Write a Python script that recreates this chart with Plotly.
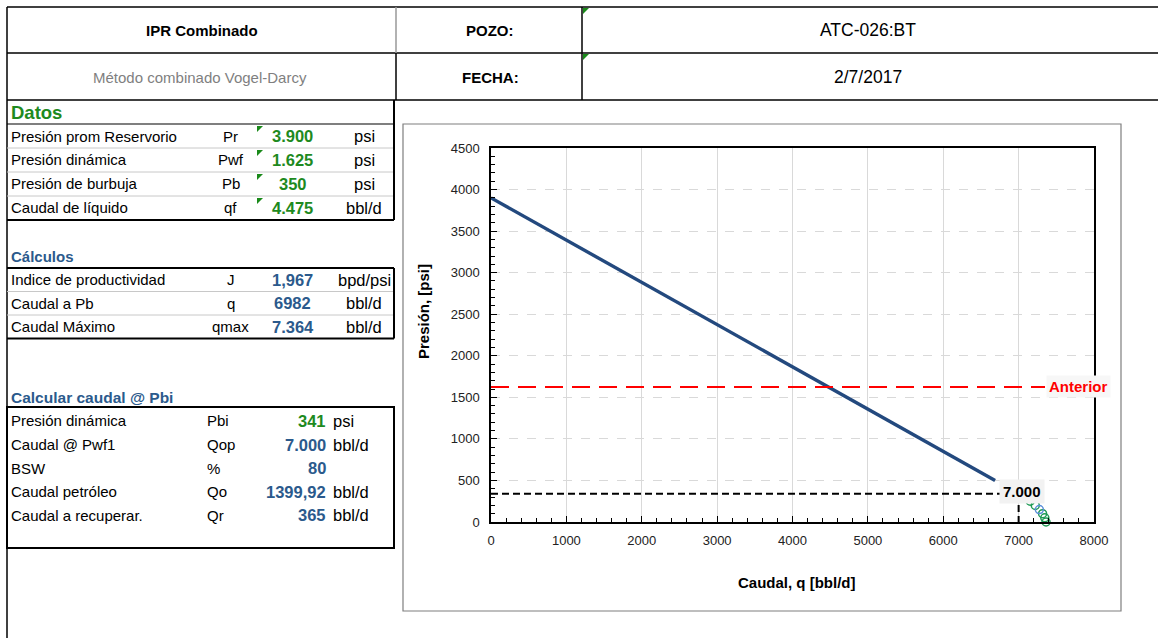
import plotly.graph_objects as go

W, H = 1158, 638
FONT = "Liberation Sans, Arial, sans-serif"
GREEN = "#1e8a1e"
BLUE = "#2b5a8c"
LINE_BLUE = "#23497e"

# ---- chart data ----
darcy_q = [0, 787, 1770, 2754, 3737, 4721, 5704, 6688]
darcy_p = [3900, 3500, 3000, 2500, 2000, 1500, 1000, 500]
vogel_q = [6982, 7074, 7154, 7221, 7318, 7347, 7364]
vogel_p = [350, 300, 250, 200, 100, 50, 0]
op_q = [7275]
op_p = [150]
pwf_anterior = 1625
anterior_q_end = 7350
pbi = 341
qop = 7000

# ---- sheet data ----
datos_labels = ["Presión prom Reservorio", "Presión dinámica", "Presión de burbuja", "Caudal de líquido"]
datos_symbols = ["Pr", "Pwf", "Pb", "qf"]
datos_values = ["3.900", "1.625", "350", "4.475"]
datos_units = ["psi", "psi", "psi", "bbl/d"]

calc_labels = ["Indice de productividad", "Caudal a Pb", "Caudal Máximo"]
calc_symbols = ["J", "q", "qmax"]
calc_values = ["1,967", "6982", "7.364"]
calc_units = ["bpd/psi", "bbl/d", "bbl/d"]

pbi_labels = ["Presión dinámica", "Caudal @ Pwf1", "BSW", "Caudal petróleo", "Caudal a recuperar."]
pbi_symbols = ["Pbi", "Qop", "%", "Qo", "Qr"]
pbi_values = ["341", "7.000", "80", "1399,92", "365"]
pbi_units = ["psi", "bbl/d", "", "bbl/d", "bbl/d"]
pbi_colors = [GREEN, BLUE, BLUE, BLUE, BLUE]


def fx(x):
    return x / W


def fy(y):
    return 1 - y / H


shapes = []
annotations = []


def hline(x0, x1, y, color="black", width=1):
    shapes.append(dict(type="line", xref="paper", yref="paper", x0=fx(x0), x1=fx(x1),
                       y0=fy(y), y1=fy(y), line=dict(color=color, width=width)))


def vline(x, y0, y1, color="black", width=1):
    shapes.append(dict(type="line", xref="paper", yref="paper", x0=fx(x), x1=fx(x),
                       y0=fy(y0), y1=fy(y1), line=dict(color=color, width=width)))


def text(x, y, s, size=15, color="black", bold=False, anchor="left"):
    if bold:
        s = "<b>" + s + "</b>"
    annotations.append(dict(xref="paper", yref="paper", x=fx(x), y=fy(y), text=s,
                            showarrow=False, xanchor=anchor, yanchor="middle",
                            font=dict(family=FONT, size=size, color=color)))


def tri(x, y):
    shapes.append(dict(type="path", xref="paper", yref="paper",
                       path=f"M {fx(x)},{fy(y)} L {fx(x + 6)},{fy(y)} L {fx(x)},{fy(y + 6)} Z",
                       fillcolor="#1a8a1a", line=dict(width=0)))


# ---- header ----
hline(7, W, 7, width=1.5)
hline(7, W, 53, width=1.5)
hline(7, W, 100, width=1.5)
vline(7, 7, H, width=1.5)
vline(396, 7, 53, color="#999999", width=1.5)
vline(396, 53, 100, width=1.5)
vline(582, 7, 100, width=1.5)
tri(583, 8)
tri(583, 54)
text(202, 30, "IPR Combinado", size=15, bold=True, anchor="center")
text(200, 77, "Método combinado Vogel-Darcy", size=15, color="#7f7f7f", anchor="center")
text(490, 30, "POZO:", size=15, bold=True, anchor="center")
text(490, 77, "FECHA:", size=15, bold=True, anchor="center")
text(868, 30, "ATC-026:BT", size=17.5, anchor="center")
text(868, 77, "2/7/2017", size=17.5, anchor="center")

# ---- Datos ----
text(9, 113, "Datos", size=18.5, color=GREEN, bold=True)
row_top = 124
row_h = 24
for i, lab in enumerate(datos_labels):
    yc = row_top + row_h * i + row_h / 2
    text(9, yc, lab, size=15)
    text(231, yc, datos_symbols[i], size=15, anchor="center")
    text(293, yc, datos_values[i], size=16.5, color=GREEN, bold=True, anchor="center")
    text(364, yc, datos_units[i], size=16.5, anchor="center")
    tri(257, row_top + row_h * i + 2)
    if 0 < i:
        hline(7, 394, row_top + row_h * i, color="#c8c8c8")
hline(7, 394, row_top, width=1.2)
hline(7, 394, row_top + row_h * 4, width=2)
vline(394, 100, row_top + row_h * 4, width=2)

# ---- Cálculos ----
text(9, 256, "Cálculos", size=15, color=BLUE, bold=True)
c_top = 268
c_h = 23.5
for i, lab in enumerate(calc_labels):
    yc = c_top + c_h * i + c_h / 2
    text(9, yc, lab, size=15)
    text(231, yc, calc_symbols[i], size=15, anchor="center")
    text(293, yc, calc_values[i], size=16.5, color=BLUE, bold=True, anchor="center")
    text(364, yc, calc_units[i], size=16.5, anchor="center")
    if 0 < i:
        hline(7, 394, c_top + c_h * i, color="#c8c8c8")
hline(7, 394, c_top, width=2)
hline(7, 394, c_top + c_h * 3, width=2)
vline(394, c_top, c_top + c_h * 3, width=2)

# ---- Calcular caudal @ Pbi ----
text(9, 397, "Calcular caudal @ Pbi", size=15.5, color=BLUE, bold=True)
shapes.append(dict(type="rect", xref="paper", yref="paper", x0=fx(7), x1=fx(394),
                   y0=fy(548), y1=fy(407), line=dict(color="black", width=2)))
for i, lab in enumerate(pbi_labels):
    yc = 421 + 23.5 * i
    text(9, yc, lab, size=15)
    text(205, yc, pbi_symbols[i], size=15)
    text(328, yc, pbi_values[i], size=16.5, color=pbi_colors[i], bold=True, anchor="right")
    text(331, yc, pbi_units[i], size=16.5)

# ---- chart frame ----
shapes.append(dict(type="rect", xref="paper", yref="paper", x0=fx(403), x1=fx(1121),
                   y0=fy(611), y1=fy(124), line=dict(color="#7f7f7f", width=1.2)))

fig = go.Figure()
fig.add_trace(go.Scatter(x=darcy_q, y=darcy_p, mode="lines",
                         line=dict(color=LINE_BLUE, width=3.4), showlegend=False))
fig.add_trace(go.Scatter(x=vogel_q, y=vogel_p, mode="markers", cliponaxis=False,
                         marker=dict(symbol="circle-open", size=8, color="#1f9a55",
                                     line=dict(width=1.5)), showlegend=False))
fig.add_trace(go.Scatter(x=op_q, y=op_p, mode="markers", cliponaxis=False,
                         marker=dict(symbol="circle-open", size=8, color="#5b8fd8",
                                     line=dict(width=1.5)), showlegend=False))
fig.add_trace(go.Scatter(x=[0, anterior_q_end], y=[pwf_anterior, pwf_anterior], mode="lines",
                         line=dict(color="#ff0000", width=2, dash="18px,9px"), showlegend=False))
fig.add_trace(go.Scatter(x=[0, qop, qop], y=[pbi, pbi, 0], mode="lines",
                         line=dict(color="black", width=2, dash="7px,4px"), showlegend=False))

annotations.append(dict(xref="x", yref="y", x=qop, y=pbi, text="<b>7.000</b>", showarrow=False,
                        xanchor="center", yanchor="middle", xshift=3, yshift=2,
                        bgcolor="#f2f2f2", borderpad=3,
                        font=dict(family=FONT, size=15, color="black")))
annotations.append(dict(xref="x", yref="y", x=anterior_q_end, y=pwf_anterior,
                        text="<b>Anterior</b>", showarrow=False, xanchor="left", yanchor="middle",
                        bgcolor="#f7f7f7", borderpad=2, xshift=1,
                        font=dict(family=FONT, size=15, color="#ff0000")))

# axis titles
text(423, 312, "Presión, [psi]", size=15, bold=True, anchor="center")
annotations[-1]["textangle"] = -90
text(797, 582, "Caudal, q [bbl/d]", size=15, bold=True, anchor="center")

fig.update_layout(
    width=W, height=H,
    margin=dict(l=0, r=0, t=0, b=0, autoexpand=False),
    paper_bgcolor="white", plot_bgcolor="white",
    showlegend=False,
    shapes=shapes,
    annotations=annotations,
    font=dict(family=FONT, size=13, color="#222222"),
    xaxis=dict(domain=[fx(491), fx(1094)], range=[0, 8000], dtick=1000, automargin=False,
               ticks="inside", ticklen=6, tickwidth=1.2, tickcolor="black", ticklabelstandoff=6,
               minor=dict(dtick=200, ticks="inside", ticklen=4, tickcolor="black", showgrid=False),
               showgrid=True, gridcolor="#d9d9d9", gridwidth=1,
               showline=True, linecolor="black", linewidth=1.5, mirror=True,
               zeroline=False, tickfont=dict(size=13, color="#222222")),
    yaxis=dict(domain=[fy(522), fy(148)], range=[0, 4500], dtick=500, automargin=False,
               ticks="inside", ticklen=6, tickwidth=1.2, tickcolor="black", ticklabelstandoff=7,
               minor=dict(dtick=100, ticks="inside", ticklen=4, tickcolor="black", showgrid=False),
               showgrid=True, gridcolor="#d9d9d9", gridwidth=1, griddash="dash",
               showline=True, linecolor="black", linewidth=1.5, mirror=True,
               zeroline=False, tickfont=dict(size=13, color="#222222")),
)

page_css = (
    "document.documentElement.style.margin='0';"
    "document.documentElement.style.overflow='hidden';"
    "document.body.style.margin='0';"
    "document.body.style.overflow='hidden';"
)
fig.write_html("out.html", config={"displayModeBar": False}, post_script=page_css)
